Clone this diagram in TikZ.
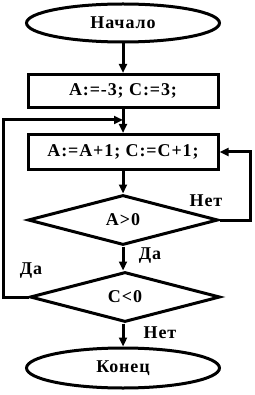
\documentclass[tikz,border=0pt]{standalone}
\usepackage{fontspec}
\setmainfont{Liberation Serif}[LetterSpace=5]
\usetikzlibrary{arrows.meta,positioning,shapes.geometric,calc}

\begin{document}
\begin{tikzpicture}[
  x=1pt, y=-1pt,
  line width=3pt,
  every node/.style={font=\bfseries\fontsize{18}{21}\selectfont},
  ovalo/.style={ellipse, draw, minimum width=193pt, minimum height=38pt, inner sep=0pt},
  bloque/.style={rectangle, draw, minimum width=190pt, minimum height=33pt, inner sep=0pt},
  rombo/.style={diamond, draw, aspect=1, minimum width=190pt, minimum height=50pt, inner sep=0pt},
  flecha/.style={-{Triangle[length=9pt, width=8pt]}, line width=3pt},
  etiq/.style={inner sep=1pt}
]
\useasboundingbox[fill=white] (0,0) rectangle (254,395);
\node[ovalo] (ini) at (123,23) {Начало};
\node[bloque] (asig) at (123,91) {A:=-3; C:=3;};
\node[bloque, minimum height=35pt] (cuerpo) at (123,152) {A:=A+1; C:=C+1;};
\node[rombo] (cond1) at (123,220) {A>0};
\node[rombo] (cond2) at (125,297) {C<0};
\node[ovalo, minimum height=40pt] (fin) at (123,368) {Конец};
\coordinate (union) at (123,120);
\coordinate (izq) at (3,0);
\coordinate (der) at (250,0);
\draw[flecha] (ini) -- (asig);
\draw[flecha] (asig) -- (cuerpo);
\draw[flecha] (cuerpo) -- (cond1);
\draw[flecha] (cond1) -- (cond1 |- cond2.north);
\node[etiq] (si1) at (150,256) {Да};
\draw[flecha] (cond2.south -| fin) -- (fin);
\node[etiq] (no2) at (160,333) {Нет};
\draw[flecha] (cond1.east) -- (cond1.east -| der) |- (cuerpo.east);
\node[etiq] (no1) at (206,201) {Нет};
\draw[flecha] (cond2.west) -- (cond2.west -| izq) |- (union);
\node[etiq] (si2) at (31,271) {Да};
\end{tikzpicture}
\end{document}
